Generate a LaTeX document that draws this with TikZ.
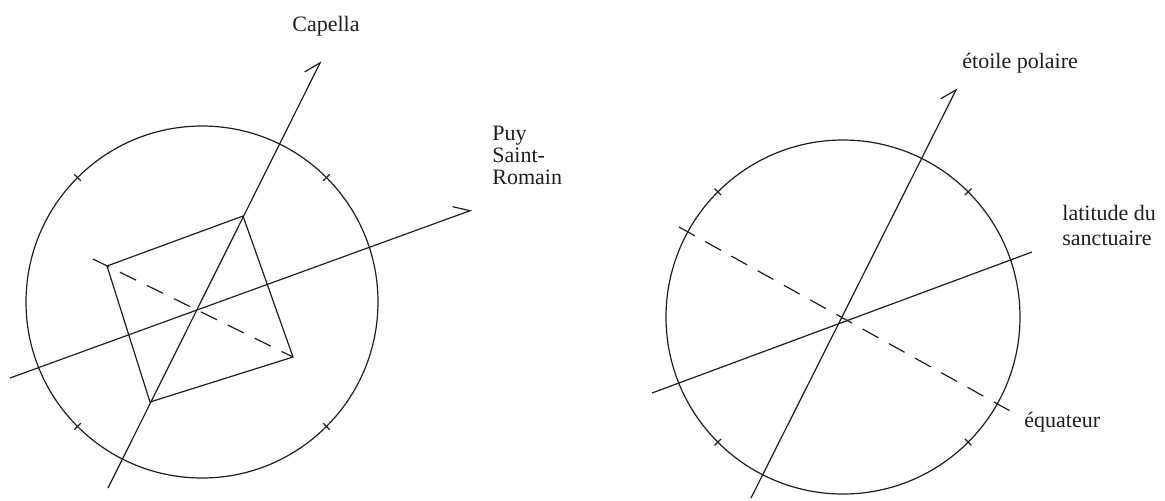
\documentclass[tikz,border=0pt]{standalone}
\usepackage{fontspec}
\setmainfont{Liberation Serif}
\usepackage{tikz}
\usetikzlibrary{arrows.meta,calc}
\definecolor{Ink}{HTML}{1E1E1E}

\begin{document}
\begin{tikzpicture}[x=0.5pt,y=-0.5pt,
    axis/.style={draw=Ink,line width=0.6pt},
    pointer/.style={axis,-{Straight Barb[left,angle=66:9pt]}},
    ref/.style={axis,dash pattern=on 9pt off 6pt},
    tick/.style={draw=Ink,line width=0.6pt},
    lbl/.style={inner sep=0pt,anchor=base west,align=left,text=Ink,font=\fontsize{11}{11}\selectfont}
]
\useasboundingbox (0,0) rectangle (1165,500);

% left figure
\coordinate (Lc) at (202,302);
\coordinate (capS) at (108,488);
\coordinate (capN) at (321,61);
\coordinate (puyW) at (10,378);
\coordinate (puyE) at (472,210);
\coordinate (sqT) at (243,216);
\coordinate (sqR) at (293,357);
\coordinate (sqB) at (150,402);
\coordinate (sqL) at (107,266);
\coordinate (dgW) at (93,259);
\draw[axis] (Lc) circle[radius=88pt];
\foreach \a in {45,135,225,315}{
    \draw[tick] ([shift={(\a:85.7pt)}]Lc) -- ([shift={(\a:90.3pt)}]Lc);
}
\draw[pointer] (capS) -- (capN);
\draw[pointer] (puyW) -- (puyE);
\draw[axis] (sqT) -- (sqR) -- (sqB) -- (sqL) -- cycle;
\draw[ref] (dgW) -- (sqR);
\node[lbl] (capella) at (292,31) {Capella};
\node[lbl] (puy) at (492,184) {Puy\\Saint-\\Romain};

% right figure
\coordinate (Rc) at (843,317);
\coordinate (polS) at (751,498);
\coordinate (polN) at (957,88);
\coordinate (latW) at (652,393);
\coordinate (latE) at (1032,252);
\coordinate (eqW) at (679,227);
\coordinate (eqE) at (1012,412);
\draw[axis] (Rc) circle[radius=88.5pt];
\foreach \a in {45,135,225,315}{
    \draw[tick] ([shift={(\a:86.2pt)}]Rc) -- ([shift={(\a:90.8pt)}]Rc);
}
\draw[pointer] (polS) -- (polN);
\draw[axis] (latW) -- (latE);
\draw[ref] (eqW) -- (eqE);
\node[lbl] (etoile) at (962,68) {étoile polaire};
\node[lbl,font=\fontsize{11}{12.5}\selectfont] (latitude) at (1062,245) {latitude du\\sanctuaire};
\node[lbl] (equateur) at (1024,427) {équateur};
\end{tikzpicture}
\end{document}
